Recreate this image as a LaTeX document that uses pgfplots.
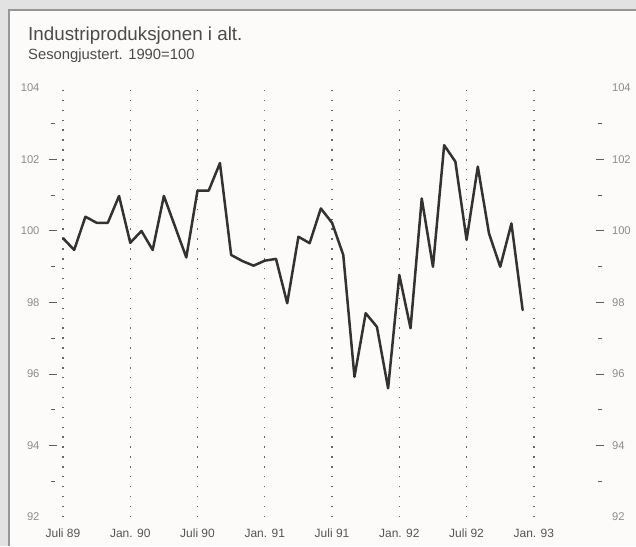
\documentclass[border=0pt]{standalone}
\usepackage{pgfplots}
\pgfplotsset{compat=1.18}
\usepackage{pgfplotstable}
\usepackage{fontspec}
\setmainfont{Liberation Sans}
\definecolor{bgout}{RGB}{226,226,226}
\definecolor{panel}{RGB}{252,251,249}
\definecolor{framec}{RGB}{150,150,150}
\definecolor{linec}{RGB}{50,50,50}
\definecolor{ticklab}{RGB}{140,140,140}
\definecolor{tickc}{RGB}{95,95,95}
\definecolor{xlab}{RGB}{85,85,85}
\definecolor{titlec}{RGB}{75,75,75}

\pgfplotstableread{
i v
0 99.80
1 99.47
2 100.40
3 100.23
4 100.23
5 100.98
6 99.67
7 100.00
8 99.47
9 100.98
10 100.12
11 99.26
12 101.13
13 101.13
14 101.90
15 99.33
16 99.16
17 99.03
18 99.17
19 99.22
20 97.98
21 99.84
22 99.66
23 100.63
24 100.23
25 99.33
26 95.92
27 97.70
28 97.32
29 95.60
30 98.77
31 97.28
32 100.91
33 99.00
34 102.40
35 101.94
36 99.75
37 101.80
38 99.93
39 99.00
40 100.21
41 97.79
}\data

\begin{document}
\begin{tikzpicture}[x=1pt,y=1pt]
\useasboundingbox (0,0) rectangle (636,546);
\fill[panel] (0,0) rectangle (636,546);
\fill[bgout] (0,0) rectangle (9,546);
\fill[bgout] (0,536) rectangle (636,546);
\draw[framec, line width=1.2pt] (9,0) -- (9,536) -- (636,536);
\node[anchor=base west, text=titlec, font=\fontsize{18.8}{20}\selectfont, inner sep=0pt] at (28,505) {Industriproduksjonen i alt.};
\node[anchor=base west, text=titlec, font=\fontsize{14.8}{16}\selectfont, inner sep=0pt] at (28,486) {Sesongjustert. 1990=100};
\begin{axis}[
  at={(53pt,29pt)}, anchor=south west, scale only axis,
  width=547pt, height=429pt,
  xmin=-0.89, xmax=47.9, ymin=92, ymax=104,
  axis line style={draw=none},
  xtick={0,6,...,42},
  xticklabels={Juli 89,Jan. 90,Juli 90,Jan. 91,Juli 91,Jan. 92,Juli 92,Jan. 93},
  xtick style={draw=none},
  xmajorgrids,
  major grid style={dash pattern=on 1.4pt off 8.5pt, line width=1.3pt, black!60},
  xticklabel style={text=xlab, font=\fontsize{12}{13}\selectfont, anchor=base, inner sep=0pt, yshift=-20.5pt},
  ytick={92,94,...,104},
  minor y tick num=1,
  tick align=center,
  major tick length=0pt,
  minor tick length=4pt,
  extra y ticks={94,96,...,102},
  extra y tick labels={},
  extra y tick style={major tick length=8pt, tick align=center},
  ytick style={tickc, line width=1pt},
  minor tick style={tickc, line width=1pt},
  yticklabel style={text=ticklab, font=\fontsize{11.2}{12}\selectfont, xshift=-10pt},
  /pgf/number format/assume math mode=true,
]
\addplot[linec, line width=2.5pt, line join=round, line cap=round] table[x=i, y=v] {\data};
\end{axis}
\begin{axis}[
  at={(53pt,29pt)}, anchor=south west, scale only axis,
  width=547pt, height=429pt,
  xmin=-0.89, xmax=47.9, ymin=92, ymax=104,
  axis line style={draw=none},
  xtick=\empty,
  ytick={92,94,...,104},
  ytick pos=right, yticklabel pos=right,
  major tick length=0pt,
  yticklabel style={text=ticklab, font=\fontsize{11.2}{12}\selectfont, xshift=8.5pt},
  /pgf/number format/assume math mode=true,
]
\end{axis}
\end{tikzpicture}
\end{document}
